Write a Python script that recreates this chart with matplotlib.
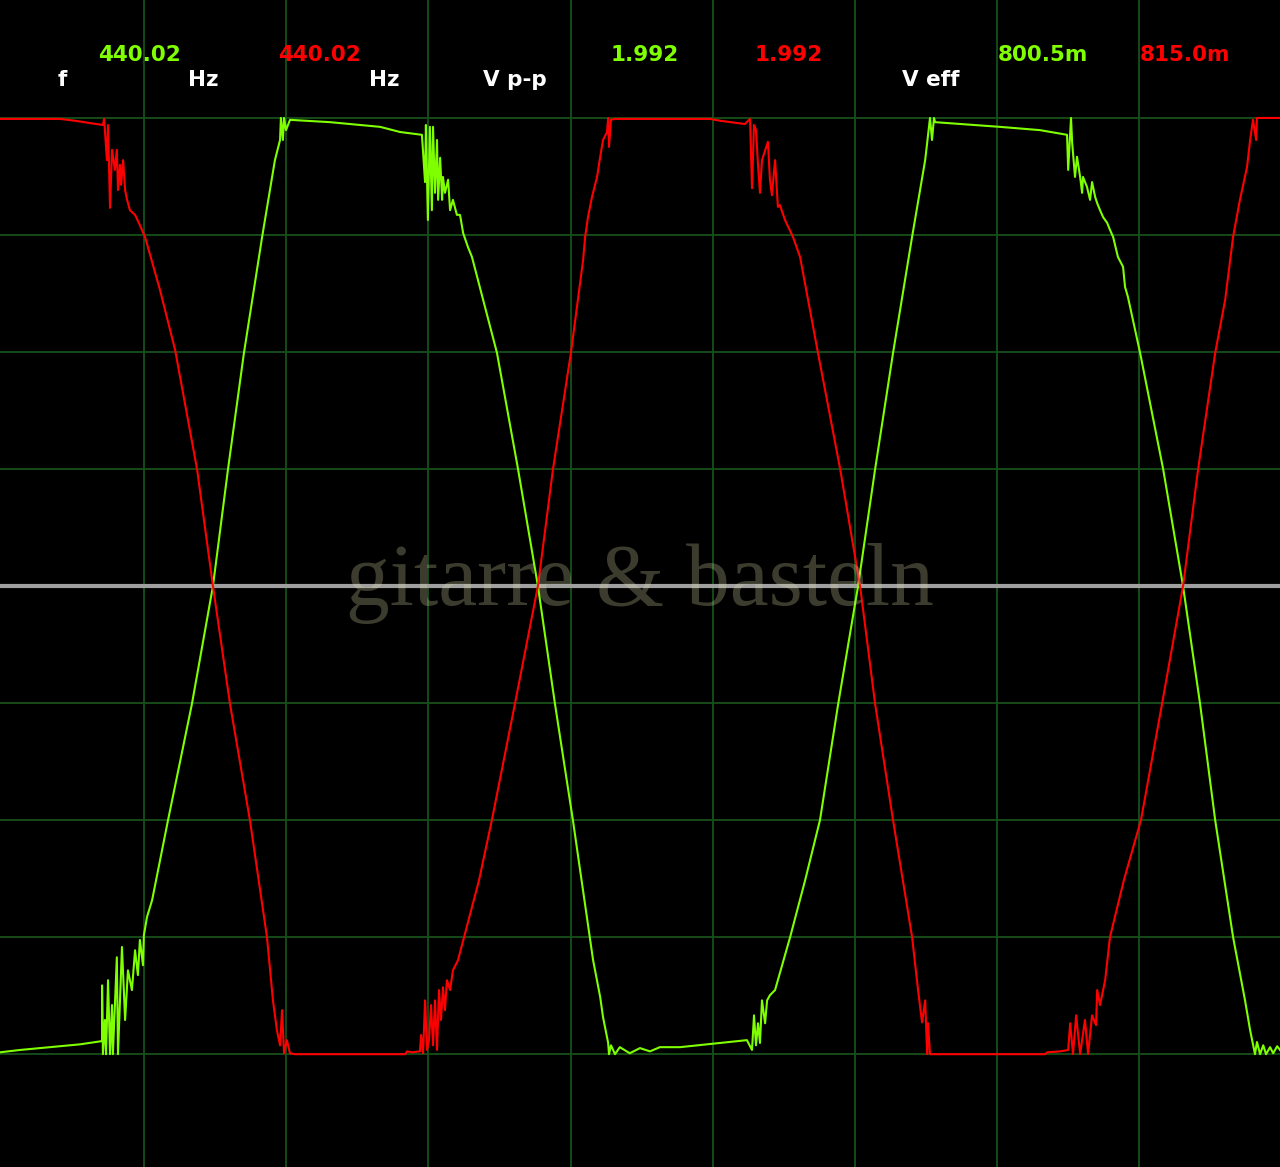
import numpy as np
import matplotlib
matplotlib.use('Agg')
import matplotlib.pyplot as plt

# scope settings: 0.5 ms/div, 0.25 V/div
ms_per_div = 0.5
volt_per_div = 0.25

# channel 1 (green), time in ms, voltage in V
green_t = [-0.007, 0.063, 0.169, 0.274, 0.352, 0.352, 0.355, 0.362, 0.366, 0.373, 0.380, 0.387, 0.390,
           0.404, 0.408, 0.422, 0.433, 0.443, 0.457, 0.468, 0.478, 0.485, 0.496, 0.499, 0.510, 0.528,
           0.584, 0.668, 0.742, 0.795, 0.851, 0.915, 0.960, 0.978, 0.981, 0.988, 0.992, 0.999, 1.013,
           1.154, 1.330, 1.400, 1.477, 1.488, 1.491, 1.498, 1.505, 1.512, 1.516, 1.523, 1.530, 1.534,
           1.541, 1.548, 1.551, 1.558, 1.569, 1.576, 1.586, 1.600, 1.611, 1.622, 1.639, 1.653, 1.741,
           1.815, 1.885, 1.945, 2.008, 2.079, 2.104, 2.114, 2.132, 2.135, 2.142, 2.156, 2.173, 2.208,
           2.244, 2.279, 2.314, 2.385, 2.526, 2.620, 2.638, 2.645, 2.652, 2.659, 2.666, 2.673, 2.684,
           2.691, 2.701, 2.719, 2.772, 2.825, 2.877, 2.941, 3.011, 3.071, 3.134, 3.201, 3.247, 3.257,
           3.264, 3.271, 3.278, 3.282, 3.510, 3.651, 3.746, 3.750, 3.760, 3.764, 3.767, 3.774, 3.781,
           3.792, 3.799, 3.802, 3.816, 3.827, 3.834, 3.845, 3.852, 3.862, 3.873, 3.887, 3.897, 3.908,
           3.925, 3.943, 3.950, 3.960, 4.003, 4.084, 4.154, 4.214, 4.267, 4.330, 4.372, 4.390, 4.407,
           4.414, 4.425, 4.436, 4.446, 4.460, 4.471, 4.485, 4.495]
green_v = [-0.996, -0.991, -0.985, -0.979, -0.972, -0.853, -1.0, -0.927, -1.0, -0.842, -1.0, -0.895, -1.0,
           -0.793, -1.0, -0.771, -0.927, -0.821, -0.863, -0.778, -0.831, -0.756, -0.810, -0.746, -0.707, -0.671,
           -0.500, -0.252, 0.0, 0.250, 0.498, 0.746, 0.910, 0.953, 1.0, 0.953, 1.0, 0.974, 0.996,
           0.991, 0.981, 0.970, 0.964, 0.863, 0.985, 0.782, 0.981, 0.803, 0.981, 0.840, 0.953, 0.825,
           0.915, 0.825, 0.874, 0.840, 0.868, 0.803, 0.825, 0.793, 0.793, 0.754, 0.724, 0.703, 0.498,
           0.250, 0.0, -0.252, -0.500, -0.799, -0.878, -0.921, -0.976, -1.0, -0.981, -1.0, -0.985, -0.998,
           -0.987, -0.994, -0.985, -0.985, -0.976, -0.970, -0.991, -0.917, -0.981, -0.934, -0.976, -0.885, -0.934,
           -0.885, -0.874, -0.863, -0.750, -0.628, -0.500, -0.252, 0.0, 0.250, 0.498, 0.746, 0.910, 0.964,
           1.0, 0.953, 1.0, 0.991, 0.981, 0.974, 0.964, 0.889, 1.0, 0.947, 0.925, 0.874, 0.917,
           0.874, 0.840, 0.874, 0.853, 0.825, 0.863, 0.831, 0.818, 0.803, 0.788, 0.776, 0.761, 0.746,
           0.703, 0.682, 0.639, 0.618, 0.498, 0.250, 0.0, -0.252, -0.500, -0.750, -0.885, -0.949, -1.0,
           -0.974, -1.0, -0.981, -1.0, -0.985, -0.998, -0.983, -0.991]

# channel 2 (red)
red_t = [-0.007, 0.204, 0.257, 0.310, 0.355, 0.359, 0.362, 0.369, 0.373, 0.380, 0.387, 0.397, 0.404,
         0.408, 0.415, 0.419, 0.426, 0.433, 0.440, 0.450, 0.468, 0.485, 0.503, 0.556, 0.609, 0.686,
         0.742, 0.802, 0.872, 0.932, 0.953, 0.967, 0.978, 0.985, 0.992, 1.002, 1.013, 1.031, 1.418,
         1.425, 1.442, 1.470, 1.474, 1.481, 1.488, 1.495, 1.502, 1.509, 1.516, 1.523, 1.530, 1.537,
         1.544, 1.551, 1.558, 1.565, 1.576, 1.586, 1.604, 1.678, 1.723, 1.804, 1.885, 1.938, 2.001,
         2.044, 2.051, 2.061, 2.075, 2.093, 2.104, 2.114, 2.128, 2.132, 2.135, 2.142, 2.156, 2.490,
         2.526, 2.613, 2.631, 2.638, 2.645, 2.652, 2.659, 2.666, 2.673, 2.694, 2.701, 2.708, 2.719,
         2.729, 2.736, 2.754, 2.782, 2.807, 2.870, 2.948, 3.018, 3.071, 3.134, 3.201, 3.222, 3.236,
         3.247, 3.254, 3.257, 3.264, 3.669, 3.676, 3.721, 3.750, 3.757, 3.767, 3.778, 3.792, 3.809,
         3.820, 3.834, 3.848, 3.852, 3.862, 3.880, 3.897, 3.946, 4.006, 4.080, 4.154, 4.207, 4.267,
         4.302, 4.330, 4.354, 4.379, 4.390, 4.400, 4.411, 4.414, 4.495]
red_v = [0.998, 0.998, 0.994, 0.989, 0.985, 0.998, 0.974, 0.910, 0.985, 0.808, 0.932, 0.889, 0.932,
         0.846, 0.900, 0.857, 0.910, 0.846, 0.825, 0.803, 0.793, 0.771, 0.746, 0.632, 0.504, 0.250,
         0.0, -0.252, -0.500, -0.750, -0.885, -0.949, -0.981, -0.906, -0.998, -0.970, -0.998, -1.0, -1.0,
         -0.994, -0.996, -0.994, -0.959, -0.998, -0.885, -0.991, -0.970, -0.895, -0.981, -0.885, -0.991, -0.863,
         -0.927, -0.857, -0.906, -0.842, -0.863, -0.821, -0.799, -0.628, -0.500, -0.252, 0.0, 0.250, 0.498,
         0.697, 0.746, 0.788, 0.831, 0.874, 0.917, 0.953, 0.970, 1.0, 0.938, 0.996, 0.998, 0.998,
         0.994, 0.987, 0.998, 0.850, 0.985, 0.974, 0.900, 0.840, 0.910, 0.949, 0.868, 0.835, 0.910,
         0.810, 0.814, 0.782, 0.746, 0.703, 0.498, 0.250, 0.0, -0.252, -0.500, -0.750, -0.863, -0.932,
         -0.885, -1.0, -0.934, -1.0, -1.0, -0.996, -0.994, -0.991, -0.934, -1.0, -0.917, -1.0, -0.927,
         -1.0, -0.917, -0.938, -0.863, -0.895, -0.842, -0.750, -0.628, -0.500, -0.252, 0.0, 0.250, 0.498,
         0.611, 0.746, 0.825, 0.895, 0.953, 0.996, 0.953, 1.0, 1.0]

# readouts
label_texts = ['f', 'Hz', 'Hz', 'V p-p', 'V eff']
green_readouts = ['440.02', '1.992', '800.5m']
red_readouts = ['440.02', '1.992', '815.0m']

W, H = 1280, 1167
fig = plt.figure(figsize=(W / 100, H / 100), dpi=100, facecolor='black')
ax = fig.add_axes([0, 0, 1, 1], facecolor='black')

ax.set_xlim(-0.007, 4.495)
ax.set_ylim(-1.241, 1.252)
ax.set_xticks(np.arange(1, 9) * ms_per_div)
ax.set_yticks(np.arange(-4, 5) * volt_per_div)
ax.grid(True, color='#17511a', lw=1.3)
ax.tick_params(length=0, labelbottom=False, labelleft=False)
for s in ax.spines.values():
    s.set_visible(False)

ax.axhline(0, color='#a0a0a0', lw=3.0, zorder=2)

ax.plot(green_t, green_v, color='#7fff00', lw=1.5, zorder=3)
ax.plot(red_t, red_v, color='#ff0000', lw=1.5, zorder=4)

# watermark
ax.text(0.5, 0.5, 'gitarre & basteln', transform=ax.transAxes, ha='center', va='center',
        family='Liberation Serif', fontsize=63, color='#d8d8a8', alpha=0.28, zorder=5)

# header text
hdr = dict(family='DejaVu Sans', fontweight='bold', fontsize=15.5, ha='center', va='center')
for x, txt in zip([62, 203, 384, 515, 931], label_texts):
    fig.text(x / W, 1 - 80 / H, txt, color='white', **hdr)
for x, txt in zip([139, 645, 1043], green_readouts):
    fig.text(x / W, 1 - 55 / H, txt, color='#7fff00', **hdr)
for x, txt in zip([319, 789, 1185], red_readouts):
    fig.text(x / W, 1 - 55 / H, txt, color='#ff0000', **hdr)

fig.savefig('out.png', dpi=100, facecolor='black')
